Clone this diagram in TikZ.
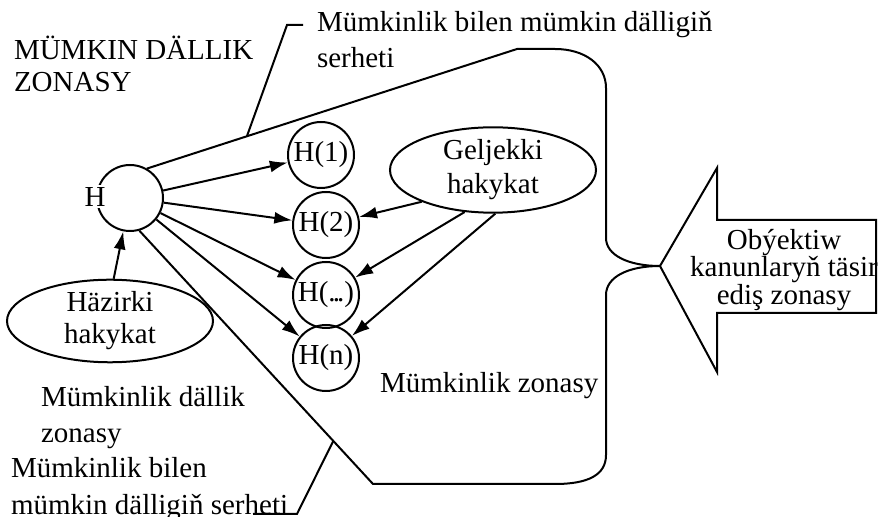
\documentclass[tikz,border=0pt]{standalone}
\usepackage{fontspec}
\setmainfont{Liberation Serif}
\usetikzlibrary{shapes.geometric,arrows.meta}
\newcommand{\txt}[1]{\fontsize{14.5pt}{#1}\selectfont}

\begin{document}
\begin{tikzpicture}[
        x=0.5pt, y=-0.5pt,
        line width=1pt,
        every node/.style={font=\txt{17pt}, inner sep=0pt},
        state/.style={circle, draw, minimum size=33pt},
        reality/.style={ellipse, draw, minimum width=103pt, minimum height=37pt, align=center},
        note/.style={align=left, anchor=base west},
        arr/.style={-{Latex[length=9pt,width=6pt]}}
    ]
    \useasboundingbox (0,0) rectangle (878,517);

    \node[state] (H) at (130,198) {};
    \node[fill=white, inner sep=1pt] (Htext) at (95,197) {H};
    \node[state] (h1) at (321,155) {H(1)};
    \node[state] (h2) at (326,225) {H(2)};
    \node[state] (h3) at (326,295) {H({.}\kern-.1em{.}\kern-.1em{.})};
    \node[state] (hn) at (326,358) {H(n)};

    \node[reality, font=\txt{17pt}] (gel) at (493,170) {Geljekki\\hakykat};
    \node[reality, font=\txt{16pt}, minimum height=36pt] (hz) at (110,321) {Häzirki\\hakykat};

    \draw[arr] (H) -- (h1);
    \draw[arr] (H) -- (h2);
    \draw[arr] (H) -- (h3);
    \draw[arr] (H) -- (hn);
    \draw[arr] (hz.85) -- (H);
    \draw[arr] (gel.204) -- (h2);
    \draw[arr] (gel.236) -- (h3);
    \draw[arr] (gel.273) -- (hn);

    \draw (H.60) -- (517,49) -- (555,49) .. controls (585,49) and (606,65) .. (606,88)
        -- (606,238) .. controls (606,255) and (628,266) .. (660,266)
        .. controls (628,266) and (606,277) .. (606,295)
        -- (606,455) .. controls (606,475) and (588,484) .. (555,484)
        -- (373,484) -- (H.286);

    \path (H.60) -- (517,49) coordinate[pos=0.27] (topmark);
    \path (373,484) -- (H.286) coordinate[pos=0.17] (botmark);
    \draw (topmark) -- (287,25) -- (303,25);
    \draw (botmark) -- (297,514) -- (253,514);

    \node[note, font=\txt{16pt}] (zone) at (13,92) {MÜMKIN DÄLLIK\\ZONASY};
    \node[note, font=\txt{18pt}] (topnote) at (316,68) {Mümkinlik bilen mümkin dälligiň\\serheti};
    \node[note, font=\txt{18pt}] (leftzone) at (40,443) {Mümkinlik dällik\\zonasy};
    \node[note, font=\txt{18.5pt}] (botnote) at (10,515) {Mümkinlik bilen\\mümkin dälligiň serheti};
    \node[note] (midzone) at (379,393) {Mümkinlik zonasy};

    \draw (660,266) -- (717,168) -- (717,220) -- (876,220) -- (876,313) -- (717,313) -- (717,372) -- cycle;
    \node[align=center, font=\txt{13.75pt}] (law) at (784,270) {Obýektiw\\kanunlaryň täsir\\ediş zonasy};
\end{tikzpicture}
\end{document}
